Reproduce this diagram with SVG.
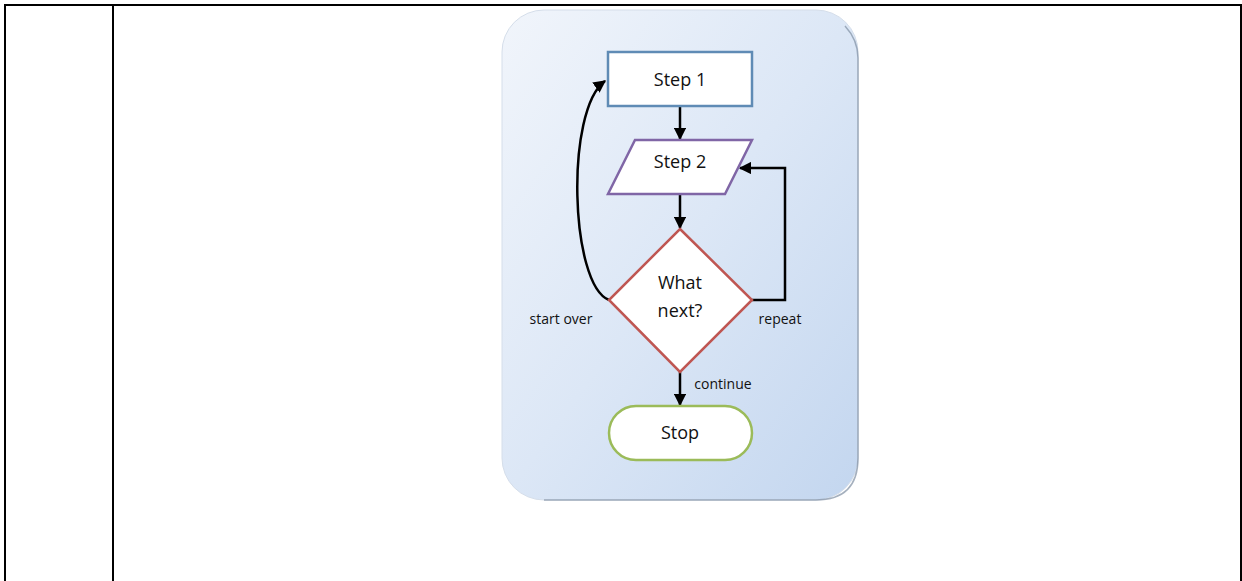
<svg xmlns="http://www.w3.org/2000/svg" width="1242" height="581" viewBox="0 0 1242 581">
<defs>
<linearGradient id="panelGrad" x1="0" y1="0" x2="1" y2="1">
<stop offset="0" stop-color="#f1f5fb"/>
<stop offset="0.5" stop-color="#dce7f6"/>
<stop offset="1" stop-color="#c3d6ef"/>
</linearGradient>
<marker id="arr" viewBox="0 0 10 10" refX="9" refY="5" markerWidth="5" markerHeight="5" orient="auto" markerUnits="strokeWidth">
<path d="M0,0 L10,5 L0,10 z" fill="#000"/>
</marker>
<style>
.tbl{stroke:#000;stroke-width:2;fill:none}
.lbl{font-family:"Open Sans","Noto Sans",sans-serif;fill:#111;text-anchor:middle}
.node{font-size:18px}
.edge{font-size:14px}
.conn{stroke:#000;stroke-width:2.5;fill:none;marker-end:url(#arr)}
</style>
</defs>
<rect width="1242" height="581" fill="#fff"/>
<g id="table">
<line class="tbl" x1="4" y1="5" x2="1242" y2="5"/>
<line class="tbl" x1="5" y1="4" x2="5" y2="581"/>
<line class="tbl" x1="113" y1="5" x2="113" y2="581"/>
<line class="tbl" x1="1241" y1="4" x2="1241" y2="581"/>
</g>
<g id="panel">
<rect x="502" y="10" width="356" height="490" rx="42" fill="url(#panelGrad)" stroke="#d5deea" stroke-width="1"/>
<path d="M845,26 Q858,40 858,58 L858,458 Q858,500 816,500 L544,500" fill="none" stroke="#7f8ea3" stroke-width="1.5" opacity="0.7"/>
</g>
<g id="connectors">
<line class="conn" x1="680" y1="106" x2="680" y2="139"/>
<line class="conn" x1="680" y1="194" x2="680" y2="228"/>
<line class="conn" x1="680" y1="372" x2="680" y2="405"/>
<path class="conn" d="M752,300 L785,300 L785,168 L740,168"/>
<path class="conn" d="M609,300 C570,285 565,110 605,81"/>
<text class="lbl edge" x="561" y="324">start over</text>
<text class="lbl edge" x="780" y="324">repeat</text>
<text class="lbl edge" x="723" y="389">continue</text>
</g>
<g id="step1">
<rect x="608" y="52" width="144" height="54" fill="#fff" stroke="#5f8bb5" stroke-width="2.5"/>
<text class="lbl node" x="680" y="86">Step 1</text>
</g>
<g id="step2">
<polygon points="635,140 752,140 725,194 608,194" fill="#fff" stroke="#8066a6" stroke-width="2.5"/>
<text class="lbl node" x="680" y="168">Step 2</text>
</g>
<g id="decision">
<polygon points="680,229 752,300 680,372 609,300" fill="#fff" stroke="#bf5652" stroke-width="2.5"/>
<text class="lbl node" x="680" y="289">What</text>
<text class="lbl node" x="680" y="317">next?</text>
</g>
<g id="stop">
<rect x="609" y="406" width="143" height="54" rx="27" fill="#fff" stroke="#9bbb59" stroke-width="2.5"/>
<text class="lbl node" x="680" y="439">Stop</text>
</g>
</svg>
